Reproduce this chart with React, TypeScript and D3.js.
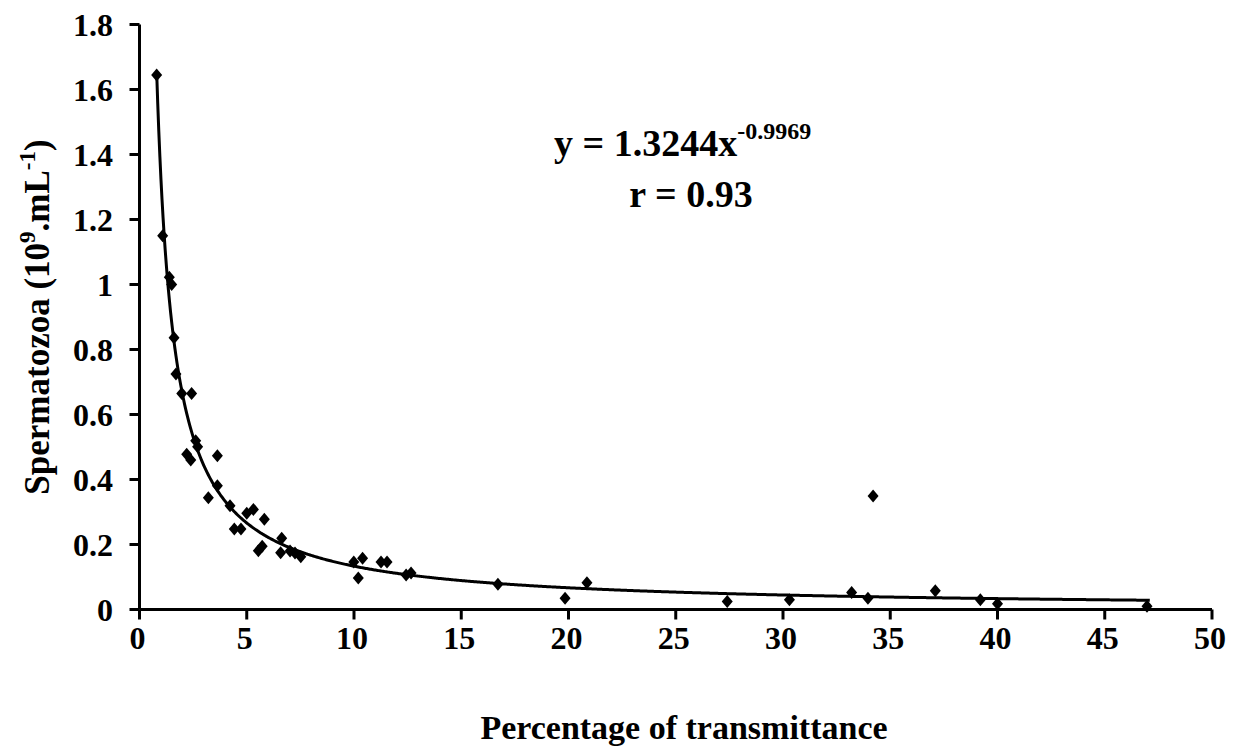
import { useEffect } from "react";
import * as d3 from "d3";

// percentage of transmittance (x) and spermatozoa 10^9/mL (y)
const transmittance = [
  0.8, 1.08, 1.39, 1.5, 1.61, 1.7, 1.97, 2.43, 2.62, 2.71, 2.2, 2.39, 3.63, 3.63,
  3.21, 4.22, 5.0, 5.31, 5.82, 4.42, 4.73, 5.54, 5.72, 6.63, 6.58, 7.02, 7.25, 7.52,
  9.99, 10.4, 10.2, 11.26, 11.54, 12.43, 12.66, 16.71, 19.84, 20.86,
  27.4, 30.3, 33.2, 33.96, 34.2, 37.1, 39.2, 40.0, 46.97,
];
const spermatozoa = [
  1.645, 1.15, 1.022, 1.0, 0.836, 0.725, 0.665, 0.665, 0.519, 0.501, 0.478, 0.46, 0.473, 0.381,
  0.344, 0.319, 0.296, 0.308, 0.278, 0.248, 0.248, 0.181, 0.195, 0.219, 0.175, 0.18, 0.174, 0.162,
  0.146, 0.158, 0.097, 0.146, 0.146, 0.106, 0.112, 0.078, 0.035, 0.082,
  0.025, 0.03, 0.052, 0.035, 0.349, 0.058, 0.03, 0.018, 0.01,
];
const xTicks = [0, 5, 10, 15, 20, 25, 30, 35, 40, 45, 50];
const yTicks = [0, 0.2, 0.4, 0.6, 0.8, 1, 1.2, 1.4, 1.6, 1.8];
const fitCoef = 1.3244;
const fitExp = -0.9969;
const fitRange = [0.8, 47.1];

const FONT = "'Liberation Serif', 'Times New Roman', serif";

export default function App() {
  useEffect(() => {
    document.body.style.margin = "0";
  }, []);

  const width = 1239;
  const height = 750;
  const x = d3.scaleLinear().domain([0, 50]).range([139.5, 1212]);
  const y = d3.scaleLinear().domain([0, 1.8]).range([609.5, 24.5]);

  const fitPts = d3.range(fitRange[0], fitRange[1], 0.05).concat([fitRange[1]]);
  const line = d3
    .line<number>()
    .x((d) => x(d))
    .y((d) => y(fitCoef * Math.pow(d, fitExp)));

  const diamond = "M0,-6.5L5.5,0L0,6.5L-5.5,0Z";

  return (
    <svg width={width} height={height} style={{ display: "block", background: "#fff" }} fontFamily={FONT}>
      {/* axes */}
      <line x1={x(0)} x2={x(0)} y1={y(1.8)} y2={y(0)} stroke="#000" strokeWidth={3} />
      <line x1={x(0)} x2={x(50)} y1={y(0)} y2={y(0)} stroke="#000" strokeWidth={3} />
      {yTicks.map((t) => (
        <g key={"y" + t}>
          <line x1={x(0) - 10} x2={x(0)} y1={y(t)} y2={y(t)} stroke="#000" strokeWidth={3} />
          <text x={113} y={y(t)} dy="0.35em" textAnchor="end" fontSize={32} fontWeight="bold">
            {String(t)}
          </text>
        </g>
      ))}
      {xTicks.map((t) => (
        <g key={"x" + t}>
          <line x1={x(t)} x2={x(t)} y1={y(0)} y2={y(0) + 10} stroke="#000" strokeWidth={3} />
          <text x={x(t) - 2} y={649} textAnchor="middle" fontSize={32} fontWeight="bold">
            {String(t)}
          </text>
        </g>
      ))}

      {/* fitted power curve */}
      <path d={line(fitPts) ?? ""} fill="none" stroke="#000" strokeWidth={3} />

      {/* observations */}
      {transmittance.map((t, i) => (
        <path key={i} d={diamond} transform={`translate(${x(t)},${y(spermatozoa[i])})`} fill="#000" />
      ))}

      {/* equation */}
      <text x={554} y={156} fontSize={38} fontWeight="bold">
        y = 1.3244x
        <tspan fontSize={24} dy={-17}>-0.9969</tspan>
      </text>
      <text x={691} y={207} textAnchor="middle" fontSize={38} fontWeight="bold">
        r = 0.93
      </text>

      {/* axis titles */}
      <text
        transform={`translate(49,317) rotate(-90)`}
        textAnchor="middle"
        fontSize={35}
        fontWeight="bold"
      >
        Spermatozoa (10
        <tspan fontSize={23} dy={-14}>9</tspan>
        <tspan dy={14}>.mL</tspan>
        <tspan fontSize={23} dy={-14}>-1</tspan>
        <tspan dy={14}>)</tspan>
      </text>
      <text x={684} y={739} textAnchor="middle" fontSize={34} fontWeight="bold">
        Percentage of transmittance
      </text>
    </svg>
  );
}
